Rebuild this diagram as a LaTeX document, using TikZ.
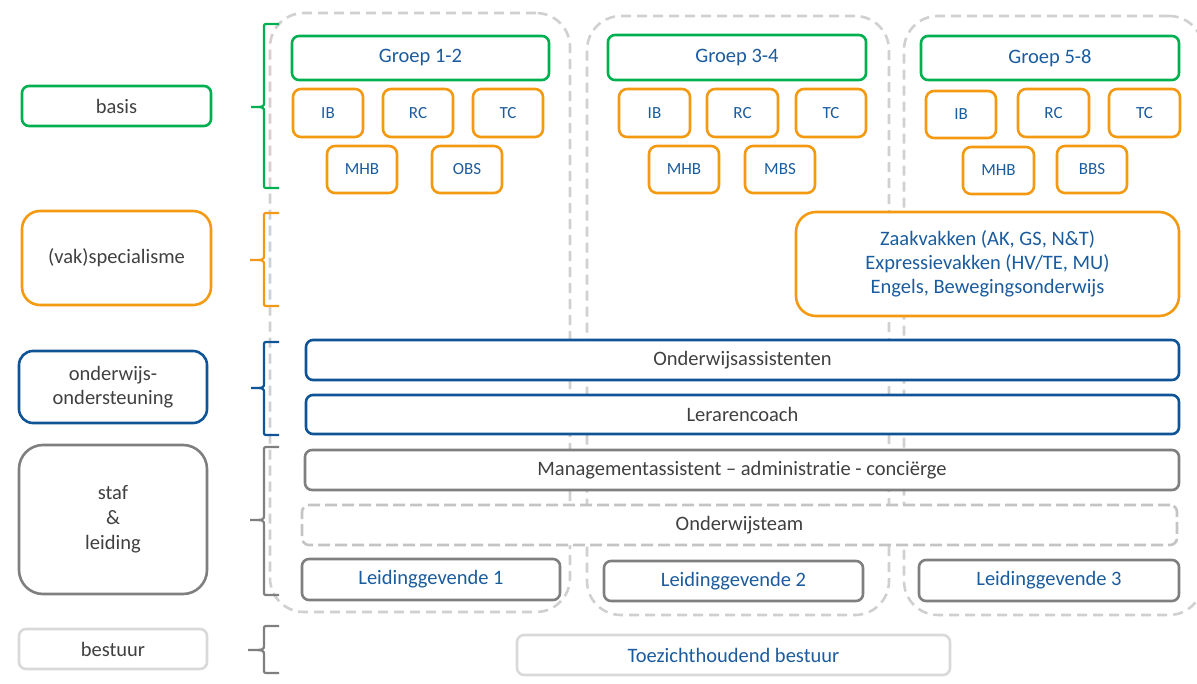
\documentclass[tikz,border=0pt]{standalone}
\usepackage{fontspec}
\setmainfont{Carlito}[Ligatures=NoCommon]
\definecolor{cgreen}{HTML}{00B050}
\definecolor{corange}{HTML}{F39A12}
\definecolor{cblue}{HTML}{0F5496}
\definecolor{tblue}{HTML}{1B5C9E}
\definecolor{tgray}{HTML}{404040}
\definecolor{bgray}{HTML}{7F7F7F}
\definecolor{lgray}{HTML}{D0D0D0}
\definecolor{dgray}{HTML}{C4C4C4}
\definecolor{vlgray}{HTML}{D9D9D9}
\newcommand\bx[7]{%
 \pgfmathsetmacro\bxcx{(#2+#4)/2}%
 \pgfmathsetmacro\bxcy{(#3+#5)/2}%
 \pgfmathsetmacro\bxw{(#4-#2)*0.5}%
 \pgfmathsetmacro\bxh{(#5-#3)*0.5}%
 \node[#6, minimum width=\bxw pt, minimum height=\bxh pt] (#1) at (\bxcx,\bxcy) {#7};}
\newcommand\brc[5]{% color, tipx, top, tip y, bottom
 \draw[#1, line width=1.1pt] (279,#3) -- (268,#3) .. controls (264,#3) .. (264,#3+4) -- (264,#4-5) .. controls (264,#4) .. (#2,#4) .. controls (264,#4) .. (264,#4+5) -- (264,#5-4) .. controls (264,#5) .. (268,#5) -- (279,#5);}
\begin{document}
\begin{tikzpicture}[x=0.5pt,y=-0.5pt,
 base/.style={draw, fill=white, line width=1.3pt, rounded corners=3.5pt, inner sep=0pt, align=center, font=\fontsize{10.25}{12}\selectfont},
 colbox/.style={draw=lgray, line width=1.3pt, dash pattern=on 5pt off 3pt, rounded corners=17pt, inner sep=0pt},
 grp/.style={base, draw=cgreen, text=tblue},
 sm/.style={base, draw=corange, text=tblue, rounded corners=4pt, font=\fontsize{8.5}{10}\selectfont},
 lab/.style={base, text=tgray},
 bluebox/.style={base, draw=cblue, text=tgray},
 graybox/.style={base, draw=bgray, text=tgray},
 leidbox/.style={base, draw=bgray, text=tblue},
 teambox/.style={base, draw=dgray, dash pattern=on 6pt off 2.5pt, text=tgray},
 lightbox/.style={base, draw=vlgray, text=tblue}
]
\useasboundingbox (0,0) rectangle (1197,684);
\clip (0,0) rectangle (1197,684);
% columns
\bx{col1}{270}{13}{570}{612}{colbox}{}
\bx{col2}{587}{16}{889}{615}{colbox}{}
\bx{col3}{904}{16}{1203}{615}{colbox}{}
% left labels
\bx{lbasis}{22}{86}{211}{126}{lab, draw=cgreen}{basis}
\bx{lvak}{22}{211}{211}{305}{lab, draw=corange, rounded corners=9pt}{(vak)specialisme}
\bx{lond}{19}{351}{207}{423}{lab, draw=cblue, rounded corners=7pt, font=\fontsize{10.25}{12}\selectfont}{onderwijs-\\ondersteuning}
\bx{lstaf}{19}{445}{207}{594}{lab, draw=bgray, rounded corners=12pt, font=\fontsize{10.25}{12.5}\selectfont}{staf\\\&\\leiding}
\bx{lbest}{19}{629}{207}{669}{lab, draw=vlgray}{bestuur}
% braces
\brc{cgreen}{251}{24}{107}{188}
\brc{corange}{250}{213}{260}{306}
\brc{cblue}{251}{342}{388}{435}
\brc{bgray}{250}{447}{520}{595}
\brc{bgray}{248}{626}{650}{673}
% groep boxes
\bx{g12}{292}{36}{549}{80}{grp}{Groep 1-2}
\bx{g34}{608}{35}{866}{80}{grp}{Groep 3-4}
\bx{g58}{921}{36}{1179}{80}{grp}{Groep 5-8}
% col1 small
\bx{a1}{293}{89}{363}{137}{sm}{IB}
\bx{a2}{383}{89}{453}{137}{sm}{RC}
\bx{a3}{473}{89}{543}{137}{sm}{TC}
\bx{a4}{327}{146}{397}{193}{sm}{MHB}
\bx{a5}{432}{146}{502}{193}{sm}{OBS}
% col2 small
\bx{b1}{619}{89}{690}{137}{sm}{IB}
\bx{b2}{707}{89}{778}{137}{sm}{RC}
\bx{b3}{796}{89}{866}{137}{sm}{TC}
\bx{b4}{649}{146}{719}{193}{sm}{MHB}
\bx{b5}{745}{146}{815}{193}{sm}{MBS}
% col3 small
\bx{c1}{926}{91}{996}{138}{sm}{IB}
\bx{c2}{1018}{89}{1089}{137}{sm}{RC}
\bx{c3}{1109}{89}{1180}{137}{sm}{TC}
\bx{c4}{963}{147}{1034}{194}{sm}{MHB}
\bx{c5}{1057}{146}{1127}{193}{sm}{BBS}
% vak
\bx{vak}{796}{212}{1179}{316}{base, draw=corange, text=tblue, rounded corners=10pt}{Zaakvakken (AK, GS, N\&T)\\Expressievakken (HV/TE, MU)\\Engels, Bewegingsonderwijs}
% blue
\bx{oa}{306}{340}{1179}{380}{bluebox}{Onderwijsassistenten}
\bx{lc}{306}{395}{1179}{434}{bluebox}{Lerarencoach}
% staf
\bx{ma}{305}{450}{1179}{490}{graybox}{Managementassistent – administratie - conciërge}
\bx{ot}{302}{505}{1177}{545}{teambox}{Onderwijsteam}
\bx{l1}{302}{559}{560}{600}{leidbox}{Leidinggevende 1}
\bx{l2}{604}{561}{863}{601}{leidbox}{Leidinggevende 2}
\bx{l3}{919}{560}{1179}{601}{leidbox}{Leidinggevende 3}
% bestuur
\bx{tb}{517}{635}{950}{675}{lightbox}{Toezichthoudend bestuur}
\end{tikzpicture}
\end{document}
